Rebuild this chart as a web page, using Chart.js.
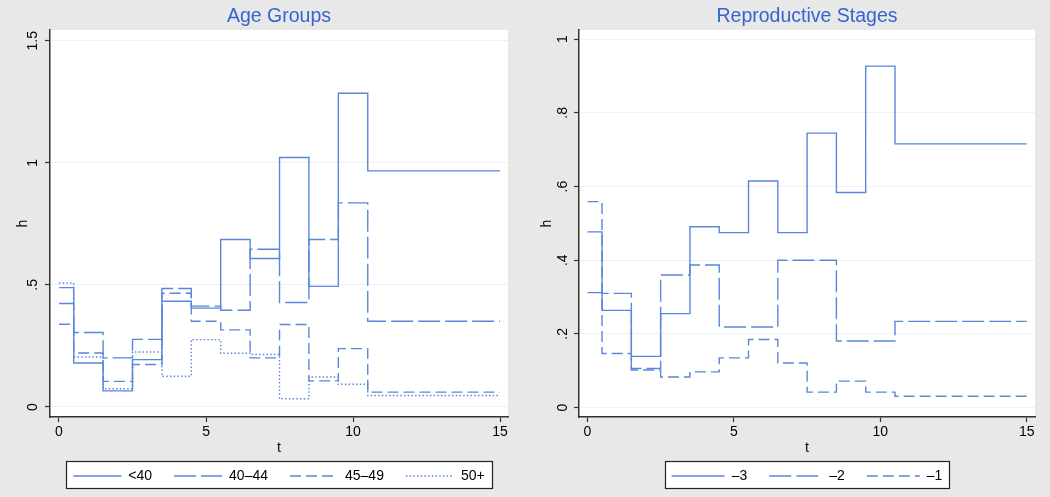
<!DOCTYPE html>
<html>
<head>
<meta charset="utf-8">
<script src="https://cdn.jsdelivr.net/npm/chart.js@4.4.0/dist/chart.umd.min.js"></script>
<style>
  html, body { margin: 0; padding: 0; background: #e8e8e8; overflow: hidden; }
  #wrap { position: relative; width: 1050px; height: 497px; }
  .panel { position: absolute; top: 0; width: 525px; height: 497px; }
</style>
</head>
<body>
<div id="wrap">
  <div class="panel" style="left:0"><canvas id="ageChart" width="525" height="497"></canvas></div>
  <div class="panel" style="left:525px"><canvas id="stageChart" width="525" height="497"></canvas></div>
</div>
<script>
// Interval break points of t (last one is the end of the follow-up)
const tBreaks = [0, 0.5, 1.5, 2.5, 3.5, 4.5, 5.5, 6.5, 7.5, 8.5, 9.5, 10.5, 15];
const xTicks = [0, 5, 10, 15];

// Age groups: hazard h per interval
const ageLabels = ['<40', '40–44', '45–49', '50+'];
const hAgeLt40  = [0.489, 0.180, 0.066, 0.194, 0.433, 0.405, 0.686, 0.608, 1.022, 0.494, 1.285, 0.967];
const hAge40_44 = [0.424, 0.305, 0.201, 0.277, 0.485, 0.413, 0.396, 0.646, 0.428, 0.686, 0.836, 0.351];
const hAge45_49 = [0.339, 0.221, 0.105, 0.174, 0.466, 0.351, 0.316, 0.201, 0.338, 0.107, 0.239, 0.061];
const hAge50p   = [0.508, 0.205, 0.075, 0.225, 0.126, 0.276, 0.220, 0.215, 0.034, 0.123, 0.093, 0.047];
const ageYTicks = [0, 0.5, 1, 1.5];

// Reproductive stages: hazard h per interval
const stageLabels = ['–3', '–2', '–1'];
const hStageM3 = [0.477, 0.264, 0.139, 0.255, 0.491, 0.475, 0.615, 0.475, 0.745, 0.584, 0.927, 0.716];
const hStageM2 = [0.312, 0.310, 0.106, 0.360, 0.387, 0.219, 0.219, 0.400, 0.400, 0.181, 0.181, 0.234];
const hStageM1 = [0.559, 0.147, 0.102, 0.083, 0.097, 0.135, 0.185, 0.121, 0.042, 0.072, 0.042, 0.031];
const stageYTicks = [0, 0.2, 0.4, 0.6, 0.8, 1];

const FONT = '"Liberation Sans", Arial, Helvetica, sans-serif';
const LINE = '#5a87dc';
const TITLE = '#3564cf';
const AXIS = '#333';
const DASHES = [[], [22, 5], [11, 5], [1.5, 2.2]];

const fmt = v => String(v).replace(/^0\./, '.');
const stepData = vals => tBreaks.map((t, i) => ({ x: t, y: vals[Math.min(i, vals.length - 1)] }));

// white plot region + framed white legend box
const panelBg = {
  id: 'panelBg',
  beforeDraw(chart) {
    const { ctx, chartArea: a, legend } = chart;
    ctx.save();
    ctx.fillStyle = '#fff';
    ctx.fillRect(a.left, a.top, a.right - a.left, a.bottom - a.top);
    const boxes = legend && legend.legendHitBoxes;
    if (boxes && boxes.length) {
      const l = Math.round(Math.min(...boxes.map(b => b.left)) - 7);
      const r = Math.round(Math.max(...boxes.map(b => b.left + b.width)) + 7);
      const t = Math.round(boxes[0].top - 8);
      ctx.fillRect(l, t, r - l, 27);
      ctx.strokeStyle = '#222';
      ctx.lineWidth = 1.2;
      ctx.strokeRect(l + 0.5, t + 0.5, r - l, 27);
    }
    ctx.restore();
  }
};

function makeChart(id, title, labels, series, cfg) {
  const font = { family: FONT, size: 14 };
  return new Chart(document.getElementById(id), {
    type: 'line',
    data: {
      datasets: series.map((vals, i) => ({
        label: labels[i],
        data: stepData(vals),
        stepped: true,
        borderColor: LINE,
        backgroundColor: LINE,
        borderWidth: 1.4,
        borderDash: DASHES[i],
        pointRadius: 0,
        fill: false
      }))
    },
    options: {
      responsive: false,
      animation: false,
      events: [],
      layout: { padding: { left: 0, right: cfg.padRight, top: 0, bottom: 4 } },
      plugins: {
        title: {
          display: true, text: title, fullSize: false, color: TITLE,
          font: { family: FONT, size: 19.5, weight: 'normal' },
          padding: { top: 5.3, bottom: 1.3 }
        },
        legend: {
          position: 'bottom', fullSize: false,
          labels: {
            usePointStyle: true, pointStyle: 'line', pointStyleWidth: cfg.sampleW,
            padding: 22, color: '#000', font,
            // keep each series' dash pattern on its legend sample
            generateLabels: chart => chart.data.datasets.map((ds, i) => ({
              text: ds.label, datasetIndex: i, hidden: false,
              fillStyle: ds.borderColor, strokeStyle: ds.borderColor,
              lineWidth: 1.5, lineDash: ds.borderDash, pointStyle: 'line', fontColor: '#000'
            }))
          }
        },
        tooltip: { enabled: false }
      },
      scales: {
        x: {
          type: 'linear', min: cfg.xMin, max: cfg.xMax,
          afterBuildTicks: s => { s.ticks = xTicks.map(v => ({ value: v })); },
          afterFit: s => { s.height = 30; },
          grid: { drawOnChartArea: false, tickLength: 5, tickColor: AXIS, tickWidth: 1.2 },
          border: { color: AXIS, width: 1.5 },
          ticks: { padding: 2, color: '#000', font, maxRotation: 0, callback: v => fmt(v) },
          title: { display: true, text: 't', color: '#000', font, padding: { top: 0, bottom: -9.4 } }
        },
        y: {
          type: 'linear', min: cfg.yMin, max: cfg.yMax,
          afterBuildTicks: s => { s.ticks = cfg.yTicks.map(v => ({ value: v })); },
          afterFit: s => { s.width = cfg.yWidth; },
          grid: { color: '#eef1f5', lineWidth: 1, tickLength: 5, tickColor: AXIS, tickWidth: 1.2 },
          border: { color: AXIS, width: 1.5 },
          ticks: {
            minRotation: 90, maxRotation: 90, crossAlign: 'center', padding: cfg.yTickPad,
            color: '#000', font, callback: v => fmt(v)
          },
          title: { display: true, text: 'h', color: '#000', font, padding: { top: cfg.yTitlePad, bottom: 0 } }
        }
      }
    },
    plugins: [panelBg]
  });
}

makeChart('ageChart', 'Age Groups', ageLabels, [hAgeLt40, hAge40_44, hAge45_49, hAge50p], {
  xMin: -0.306, xMax: 15.27, yMin: -0.041, yMax: 1.544, yTicks: ageYTicks,
  yWidth: 50, padRight: 17, yTickPad: 2, yTitlePad: 15, sampleW: 48
});

makeChart('stageChart', 'Reproductive Stages', stageLabels, [hStageM3, hStageM2, hStageM1], {
  xMin: -0.287, xMax: 15.28, yMin: -0.0255, yMax: 1.025, yTicks: stageYTicks,
  yWidth: 54, padRight: 15, yTickPad: 5.5, yTitlePad: 13.6, sampleW: 53
});
</script>
</body>
</html>
